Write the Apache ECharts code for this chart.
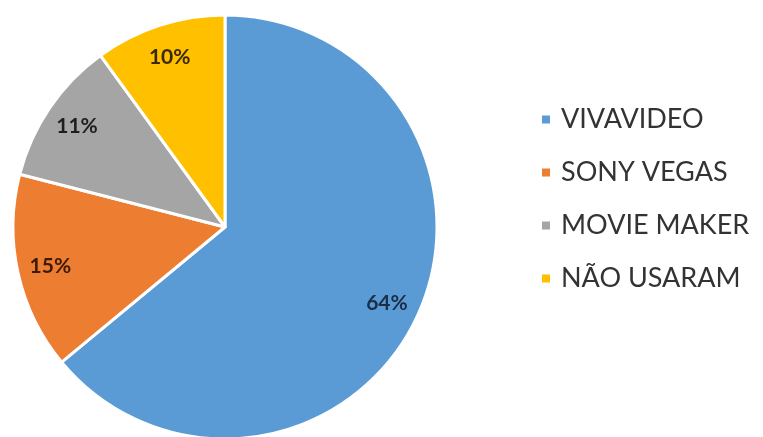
<!DOCTYPE html>
<html>
<head>
<meta charset="utf-8">
<script src="https://cdn.jsdelivr.net/npm/echarts@6/dist/echarts.min.js"></script>
<style>
html,body{margin:0;padding:0;background:#fff;}
#c{width:763px;height:437px;}
</style>
</head>
<body>
<div id="c"></div>
<script>
var categories = ['VIVAVIDEO', 'SONY VEGAS', 'MOVIE MAKER', 'NÃO USARAM'];
var values = [64, 15, 11, 10];
var colors = ['#5b9bd5', '#ed7d31', '#a5a5a5', '#ffc000'];
var labelColors = ['#1b2d48', '#3d1a08', '#1e1e1e', '#3a2806'];

var chart = echarts.init(document.getElementById('c'), null, {renderer: 'canvas'});
var R = 212;
var center = [225, 227];

var mainData = categories.map(function (n, i) {
  return {name: n, value: values[i], itemStyle: {color: colors[i]}};
});
var labelData = categories.map(function (n, i) {
  return {name: n, value: values[i], label: {color: labelColors[i]}};
});

chart.setOption({
  animation: false,
  backgroundColor: '#ffffff',
  legend: {
    orient: 'vertical',
    left: 535,
    top: 101,
    data: categories,
    icon: 'rect',
    itemWidth: 10,
    itemHeight: 10,
    itemGap: 26,
    textStyle: {
      fontFamily: 'Lato',
      fontSize: 27,
      lineHeight: 27,
      color: '#333333',
      padding: [0, 0, 0, 5]
    },
    selectedMode: false
  },
  series: [
    {
      type: 'pie',
      center: center,
      radius: [0, R],
      startAngle: 90,
      clockwise: true,
      silent: true,
      label: {show: false},
      labelLine: {show: false},
      itemStyle: {borderColor: '#ffffff', borderWidth: 3},
      data: mainData
    },
    {
      type: 'pie',
      center: center,
      radius: [R * 0.66, R],
      startAngle: 90,
      clockwise: true,
      silent: true,
      itemStyle: {color: 'rgba(0,0,0,0)', borderWidth: 0},
      label: {
        show: true,
        position: 'inside',
        formatter: '{c}%',
        fontFamily: 'Lato',
        fontWeight: 'bold',
        fontSize: 21
      },
      labelLine: {show: false},
      data: labelData
    }
  ]
});
</script>
</body>
</html>
